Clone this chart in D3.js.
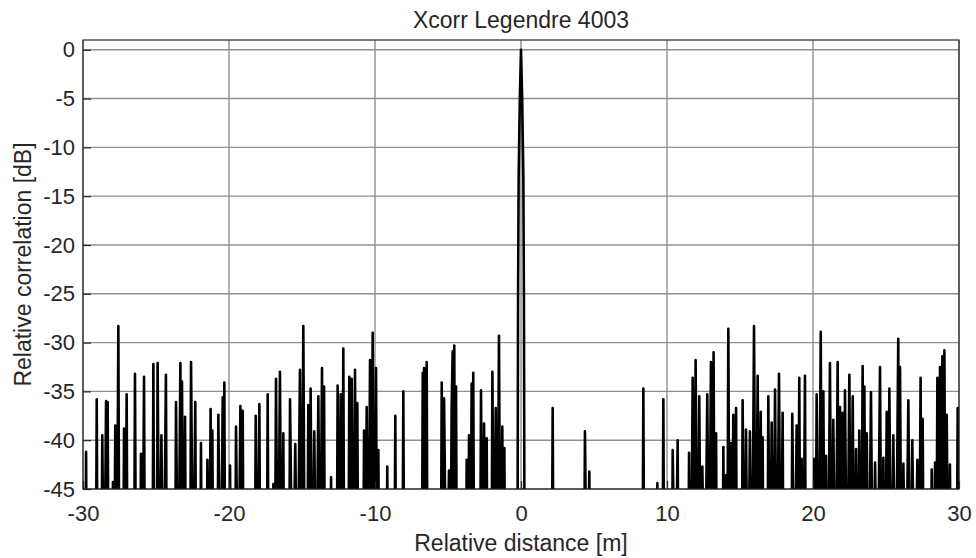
<!DOCTYPE html>
<html><head><meta charset="utf-8">
<script src="https://cdn.jsdelivr.net/npm/d3@7"></script>
<style>
body{margin:0;background:#fff}
text{font-family:"Liberation Sans",Arial,Helvetica,sans-serif;fill:#262626}
</style>
</head><body><svg id="c" width="976" height="558"></svg>
<script>
const title = "Xcorr Legendre 4003";
const xLabel = "Relative distance [m]";
const yLabel = "Relative correlation [dB]";
const xTicks = [-30, -20, -10, 0, 10, 20, 30];
const yTicks = [0, -5, -10, -15, -20, -25, -30, -35, -40, -45];
const xDomain = [-30, 30];
const yDomain = [-45, 1];

// Peaks of the correlation trace (distance in m, level in dB)
const peakDistance = [
  -29.79,-29.06,-28.68,-28.42,-28.31,-27.95,-27.79,-27.58,-27.19,-27.01,
  -26.44,-26.03,-25.82,-25.18,-24.89,-24.63,-24.32,-23.63,-23.33,-23.22,
  -23.01,-22.60,-22.31,-21.92,-21.48,-21.26,-21.14,-20.73,-20.43,-20.32,
  -19.93,-19.52,-19.22,-19.06,-18.17,-17.92,-17.35,-16.96,-16.78,-16.51,
  -16.28,-15.82,-15.46,-15.14,-14.91,-14.57,-14.41,-14.16,-13.88,-13.63,
  -13.49,-13.01,-12.56,-12.35,-12.17,-11.76,-11.60,-11.37,-11.21,-10.75,
  -10.57,-10.34,-10.16,-9.93,-9.77,-9.16,-8.61,-8.06,-6.73,-6.64,
  -6.46,-5.43,-5.27,-4.93,-4.75,-4.68,-4.57,-4.45,-3.72,-3.56,
  -3.38,-3.27,-2.74,-2.53,-2.35,-1.96,-1.73,-1.51,-1.28,-1.14,
  -0.23,-0.20,-0.16,-0.08,0,0.08,0.16,0.20,0.23,
  2.17,4.38,4.68,8.38,9.34,9.75,10.39,10.73,11.51,11.76,
  11.96,12.21,12.42,12.76,13.01,13.19,13.36,13.86,14.04,14.20,
  14.38,14.54,14.73,15.18,15.41,15.68,15.96,16.21,16.42,16.55,
  16.94,17.17,17.40,17.67,17.92,18.58,18.88,19.06,19.22,19.45,
  20.09,20.25,20.53,20.71,20.89,21.16,21.39,21.69,21.85,22.03,
  22.19,22.49,22.72,22.95,23.17,23.40,23.52,23.68,23.97,24.25,
  24.59,24.82,25.05,25.23,25.50,25.84,25.96,26.19,26.53,26.80,
  27.15,27.37,27.51,28.13,28.36,28.52,28.70,28.86,29.00,29.16,
  29.38,29.91
];
const peakLevel = [
  -41.2,-35.8,-39.5,-36.0,-36.1,-44.3,-38.5,-28.3,-38.8,-35.3,
  -33.2,-41.4,-33.5,-32.2,-32.1,-39.5,-33.3,-36.1,-32.1,-34.0,
  -37.6,-32.0,-36.1,-40.3,-42.0,-36.8,-39.0,-37.4,-35.6,-34.1,
  -42.6,-38.6,-36.5,-37.0,-37.5,-36.3,-35.3,-44.5,-33.7,-33.0,
  -39.3,-35.8,-40.4,-32.8,-28.3,-36.4,-34.7,-39.1,-35.5,-32.6,
  -34.5,-43.8,-34.4,-35.3,-30.6,-33.5,-33.7,-32.8,-36.2,-39.0,
  -36.6,-31.8,-29.0,-32.6,-41.0,-42.7,-37.5,-35.0,-33.1,-32.6,
  -32.0,-34.1,-35.7,-43.1,-36.6,-30.9,-30.3,-34.5,-42.0,-39.5,
  -34.2,-33.1,-34.9,-38.3,-39.8,-33.0,-36.7,-29.3,-38.6,-40.8,
  -45,-25,-13,-5,0,-5,-13,-25,-45,
  -36.7,-39.1,-43.2,-34.7,-44.4,-35.8,-41.0,-40.0,-41.3,-33.6,
  -31.8,-35.5,-42.7,-35.3,-32.0,-31.0,-39.3,-40.7,-43.6,-28.6,
  -40.3,-37.4,-36.7,-35.9,-38.9,-39.1,-28.3,-33.4,-37.1,-39.7,
  -35.5,-38.2,-34.8,-33.2,-37.2,-37.3,-38.5,-33.6,-41.9,-33.4,
  -41.9,-35.3,-28.9,-35.0,-41.6,-32.1,-37.9,-32.0,-36.6,-37.2,
  -34.9,-33.3,-35.5,-40.9,-39.0,-32.4,-34.5,-39.3,-35.1,-42.3,
  -32.5,-41.8,-37.1,-34.7,-39.5,-29.6,-32.5,-42.4,-35.9,-40.0,
  -42.0,-33.6,-37.8,-43.0,-42.3,-33.6,-32.5,-31.4,-30.8,-37.4,
  -42.5,-36.7
];
// Positions where the trace drops below the bottom of the axes
const floorDistance = [
  -30.00,-29.86,-29.72,-29.13,-28.99,-28.75,-28.55,-28.36,-28.24,-28.02,-27.87,-27.69,-27.50,-27.26,-27.10,-26.94,-26.51,-26.36,-26.10,-25.93,-25.75,-25.25,-25.11,
  -24.96,-24.76,-24.48,-24.25,-23.70,-23.48,-23.27,-23.12,-22.94,-22.67,-22.45,-22.24,-21.99,-21.85,-21.55,-21.37,-21.20,-21.07,-20.80,-20.58,-20.37,-20.25,-20.00,-19.86,-19.59,-19.37,-19.14,-18.99,
  -18.24,-18.05,-17.85,-17.42,-17.28,-17.03,-16.87,-16.65,-16.40,-16.21,-15.89,-15.64,-15.32,-15.03,-14.80,-14.64,-14.49,-14.29,-14.02,-13.76,-13.56,-13.42,-13.08,-12.94,
  -12.63,-12.45,-12.26,-12.10,-11.83,-11.68,-11.48,-11.29,-11.14,-10.82,-10.66,-10.45,-10.25,-10.05,-9.85,-9.70,-9.23,-9.09,-8.68,-8.54,-8.13,-7.99,-6.80,-6.69,-6.55,-6.39,-5.50,-5.35,-5.10,-4.84,-4.62,-4.51,-4.38,
  -3.79,-3.64,-3.47,-3.32,-3.20,-2.81,-2.63,-2.44,-2.28,-2.03,-1.84,-1.62,-1.40,-1.21,-1.07,-0.25,
  0.25,2.10,2.24,4.31,4.53,4.75,8.31,8.45,9.27,9.41,9.68,9.82,10.32,10.56,10.80,11.44,11.63,11.86,12.08,12.32,12.59,12.88,13.10,13.28,13.43,
  13.79,13.95,14.12,14.29,14.46,14.63,14.80,15.11,15.30,15.55,15.82,16.08,16.32,16.49,16.62,16.87,17.05,17.28,17.53,17.80,17.99,
  18.51,18.73,18.97,19.14,19.33,19.52,20.02,20.17,20.39,20.62,20.80,21.02,21.28,21.54,21.77,21.94,22.11,22.34,22.60,22.84,23.06,23.29,23.46,23.60,23.82,24.11,24.42,24.70,24.93,25.14,25.36,25.67,25.90,26.07,26.36,26.66,26.97,27.26,27.44,27.60,
  28.06,28.24,28.44,28.61,28.78,28.93,29.08,29.27,29.45,29.84,30.00
];
const floorLevel = -60;

const W = 976, H = 558;
const plotL = 83, plotR = 959, plotT = 40, plotB = 489;
const svg = d3.select("#c");
const x = d3.scaleLinear().domain(xDomain).range([plotL, plotR]);
const y = d3.scaleLinear().domain(yDomain).range([plotB, plotT]);

const series = peakDistance.map((d, i) => [d, peakLevel[i]])
  .concat(floorDistance.map(d => [d, floorLevel]))
  .sort((a, b) => a[0] - b[0]);

svg.append("rect").attr("x", 0).attr("y", 0).attr("width", W).attr("height", H).attr("fill", "#fff");

// grid
const grid = svg.append("g").attr("stroke", "#8f8f8f").attr("stroke-width", 1.4);
grid.selectAll("line.v").data(xTicks).join("line").attr("class", "v")
  .attr("x1", d => x(d)).attr("x2", d => x(d)).attr("y1", y(yDomain[1])).attr("y2", y(yDomain[0]));
grid.selectAll("line.h").data(yTicks).join("line").attr("class", "h")
  .attr("y1", d => y(d)).attr("y2", d => y(d)).attr("x1", x(xDomain[0])).attr("x2", x(xDomain[1]));

// data
svg.append("clipPath").attr("id", "clip").append("rect")
  .attr("x", plotL).attr("y", plotT).attr("width", plotR - plotL).attr("height", plotB - plotT);
svg.append("path").datum(series)
  .attr("clip-path", "url(#clip)")
  .attr("fill", "none").attr("stroke", "#000").attr("stroke-width", 2.6)
  .attr("stroke-linejoin", "round")
  .attr("d", d3.line().x(d => x(d[0])).y(d => y(d[1])));

// axes
const fs = 22;
const xAxis = svg.append("g").attr("transform", `translate(0,${plotB})`)
  .call(d3.axisBottom(x).tickValues(xTicks).tickFormat(d3.format("d")).tickSizeInner(-8).tickSizeOuter(0).tickPadding(16));
const yAxis = svg.append("g").attr("transform", `translate(${plotL},0)`)
  .call(d3.axisLeft(y).tickValues(yTicks).tickFormat(d3.format("d")).tickSizeInner(-8).tickSizeOuter(0).tickPadding(8));
[xAxis, yAxis].forEach(a => {
  a.select(".domain").remove();
  a.selectAll(".tick line").attr("stroke", "#262626").attr("stroke-width", 1.2);
  a.selectAll(".tick text").attr("font-size", fs).attr("fill", "#262626")
    .attr("font-family", '"Liberation Sans", Arial, sans-serif');
});
xAxis.selectAll(".tick text").text(d => d < 0 ? "-" + Math.abs(d) : d);
yAxis.selectAll(".tick text").text(d => d < 0 ? "-" + Math.abs(d) : d);

// box
svg.append("rect").attr("x", plotL).attr("y", plotT).attr("width", plotR - plotL).attr("height", plotB - plotT)
  .attr("fill", "none").attr("stroke", "#262626").attr("stroke-width", 1.2);

// labels
svg.append("text").attr("x", x(0)).attr("y", 28).attr("text-anchor", "middle")
  .attr("font-size", 23).text(title);
svg.append("text").attr("x", x(0)).attr("y", 551).attr("text-anchor", "middle")
  .attr("font-size", 23).text(xLabel);
svg.append("text").attr("transform", `translate(31,${(plotT + plotB) / 2}) rotate(-90)`)
  .attr("text-anchor", "middle").attr("font-size", 23).text(yLabel);
</script>
</body></html>
